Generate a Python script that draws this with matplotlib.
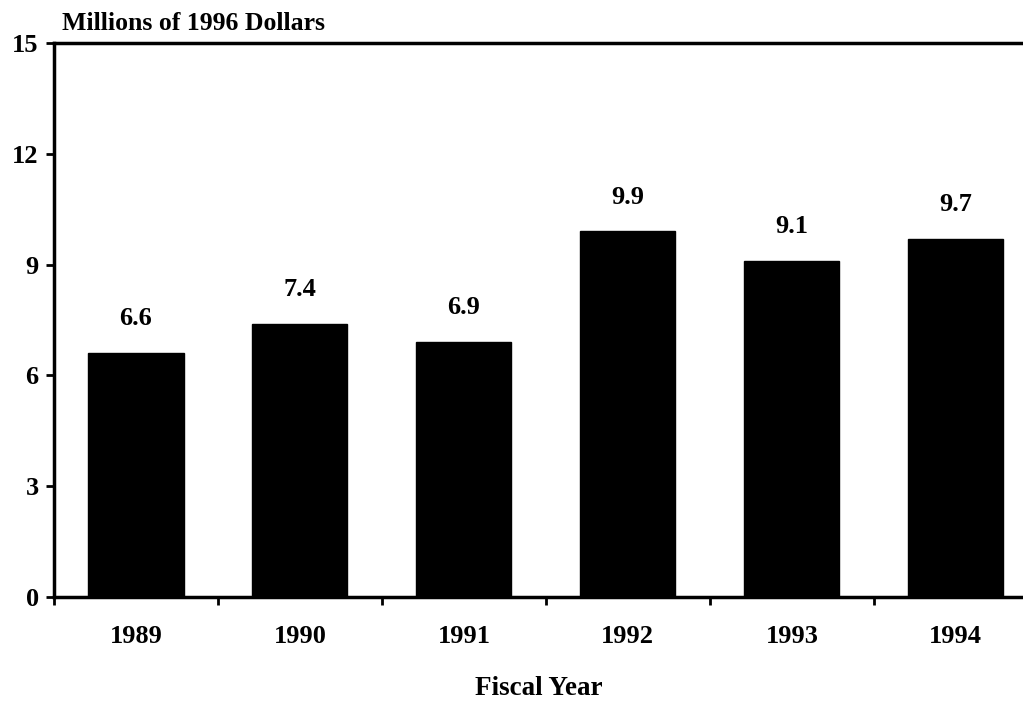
import matplotlib
matplotlib.use("Agg")
import matplotlib.pyplot as plt
from matplotlib.ticker import FixedLocator, NullFormatter

years = ["1989", "1990", "1991", "1992", "1993", "1994"]
values = [6.6, 7.4, 6.9, 9.9, 9.1, 9.7]
value_labels = ["6.6", "7.4", "6.9", "9.9", "9.1", "9.7"]
yticks = [0, 3, 6, 9, 12, 15]

plt.rcParams['font.family'] = ['Liberation Serif', 'DejaVu Serif']

fig = plt.figure(figsize=(10.23, 7.05), dpi=100)
ax = fig.add_axes([0.0528, 0.1532, 0.9472, 0.7858])

x = list(range(len(years)))
ax.bar(x, values, width=0.58, color='black', edgecolor='black')

for xi, v, lab in zip(x, values, value_labels):
    ax.annotate(lab, (xi, v), xytext=(0, 20), textcoords='offset points',
                ha='center', va='baseline', fontsize=19, fontweight='bold')

ax.set_xlim(-0.5, 5.41)
ax.set_ylim(0, 15)
ax.set_yticks(yticks)
ax.set_yticklabels([str(t) for t in yticks], fontsize=19, fontweight='bold')
ax.set_xticks(x)
ax.set_xticklabels(years, fontsize=19, fontweight='bold')
ax.tick_params(axis='x', which='major', length=0, pad=20)
ax.xaxis.set_minor_locator(FixedLocator([i + 0.5 for i in range(-1, 6)]))
ax.xaxis.set_minor_formatter(NullFormatter())
ax.tick_params(axis='x', which='minor', length=6, width=2, direction='out')
ax.tick_params(axis='y', length=6, width=2, direction='out', pad=5)

for s in ['left', 'bottom', 'top']:
    ax.spines[s].set_linewidth(2.5)
ax.spines['right'].set_visible(False)

ax.set_xlabel("Fiscal Year", fontsize=19.5, fontweight='bold', labelpad=20)
fig.text(0.0606, 0.957, "Millions of 1996 Dollars", fontsize=18.5, fontweight='bold',
         ha='left', va='baseline')

fig.savefig("out.png", dpi=100)
